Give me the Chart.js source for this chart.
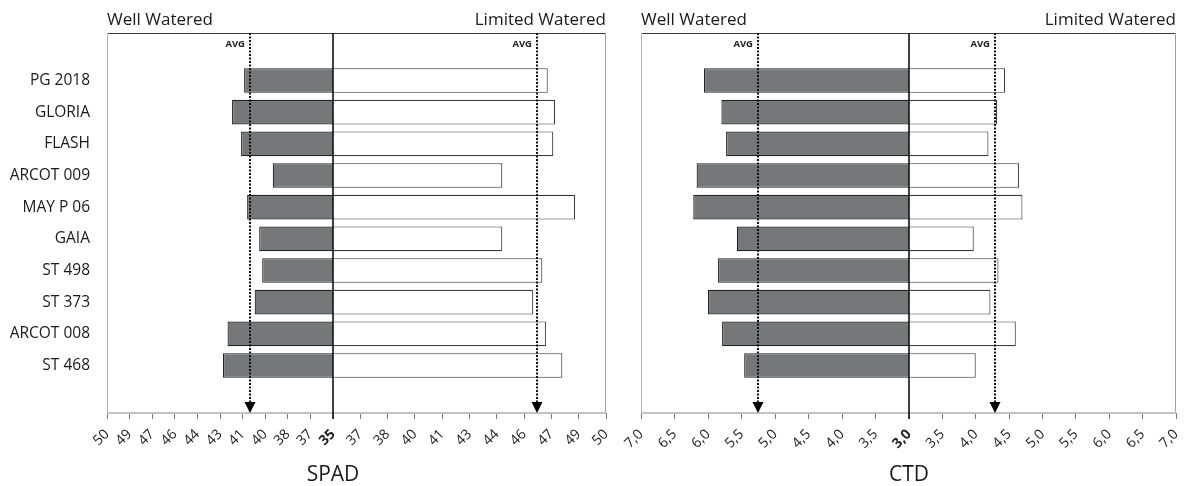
<!DOCTYPE html>
<html>
<head>
<meta charset="utf-8">
<script src="https://cdn.jsdelivr.net/npm/chart.js@4.4.1/dist/chart.umd.min.js"></script>
<style>
  html, body { margin: 0; padding: 0; background: #fff; }
  #wrap { position: relative; width: 1184px; height: 486px; }
  canvas { position: absolute; top: 0; }
  #spad { left: 0; }
  #ctd { left: 620px; }
</style>
</head>
<body>
<div id="wrap">
  <canvas id="spad" width="620" height="486"></canvas>
  <canvas id="ctd" width="564" height="486"></canvas>
</div>
<script>
// genotypes, top to bottom
const categories = ['PG 2018', 'GLORIA', 'FLASH', 'ARCOT 009', 'MAY P 06', 'GAIA', 'ST 498', 'ST 373', 'ARCOT 008', 'ST 468'];

// SPAD readings
const spadWell = [40.9, 41.7, 41.1, 39.0, 40.7, 39.9, 39.7, 40.2, 42.0, 42.3];
const spadLimited = [46.8, 47.2, 47.1, 44.3, 48.3, 44.3, 46.5, 46.0, 46.7, 47.6];
const spadAvg = [40.5, 46.2];        // well, limited
const spadRange = [35, 50];
const spadStep = 1.5;

// canopy temperature depression
const ctdWell = [6.06, 5.80, 5.73, 6.17, 6.22, 5.57, 5.85, 6.00, 5.79, 5.46];
const ctdLimited = [4.44, 4.32, 4.19, 4.65, 4.70, 3.97, 4.34, 4.22, 4.60, 4.00];
const ctdAvg = [5.25, 4.29];
const ctdRange = [3, 7];
const ctdStep = 0.5;

const FONT = "'Open Sans', 'DejaVu Sans', sans-serif";
const DARK = '#75787b';

// frame, centre line, AVG markers and the text around the plot
const panelDecor = {
  id: 'panelDecor',
  afterDatasetsDraw(chart, args, opts) {
    const { ctx, chartArea: a, scales } = chart;
    const mid = Math.round(scales.xR.left);
    ctx.save();

    ctx.lineWidth = 1;
    ctx.strokeStyle = '#3c3c3c';
    ctx.beginPath(); ctx.moveTo(a.left, a.top + 0.5); ctx.lineTo(a.right, a.top + 0.5); ctx.stroke();
    ctx.strokeStyle = '#b4b4b4';
    ctx.beginPath(); ctx.moveTo(Math.round(a.left) + 0.5, a.top); ctx.lineTo(Math.round(a.left) + 0.5, a.bottom); ctx.stroke();
    ctx.strokeStyle = '#a0a0a0';
    ctx.beginPath(); ctx.moveTo(Math.round(a.right) - 0.5, a.top); ctx.lineTo(Math.round(a.right) - 0.5, a.bottom); ctx.stroke();
    ctx.strokeStyle = '#c4c4c4';
    ctx.lineWidth = 2;
    ctx.beginPath(); ctx.moveTo(a.left, a.bottom); ctx.lineTo(a.right, a.bottom); ctx.stroke();
    ctx.strokeStyle = '#111';
    ctx.lineWidth = 1.6;
    ctx.beginPath(); ctx.moveTo(mid, a.top); ctx.lineTo(mid, a.bottom + 6); ctx.stroke();

    // averages
    opts.avg.forEach((v, i) => {
      const x = Math.round((i === 0 ? scales.xL : scales.xR).getPixelForValue(v));
      ctx.strokeStyle = '#111';
      ctx.lineWidth = 2;
      ctx.setLineDash([2, 1.5]);
      ctx.beginPath(); ctx.moveTo(x, a.top); ctx.lineTo(x, a.bottom - 10); ctx.stroke();
      ctx.setLineDash([]);
      ctx.fillStyle = '#000';
      ctx.beginPath();
      ctx.moveTo(x - 5.5, a.bottom - 11);
      ctx.lineTo(x + 5.5, a.bottom - 11);
      ctx.lineTo(x, a.bottom);
      ctx.closePath();
      ctx.fill();
      ctx.font = 'bold 9.5px ' + FONT;
      ctx.fillStyle = '#222';
      ctx.textAlign = 'right';
      ctx.textBaseline = 'middle';
      ctx.fillText('AVG', x - 5, a.top + 11);
    });

    ctx.fillStyle = '#1a1a1a';
    ctx.font = '17px ' + FONT;
    ctx.textBaseline = 'alphabetic';
    ctx.textAlign = 'left';
    ctx.fillText('Well Watered', a.left, 25);
    ctx.textAlign = 'right';
    ctx.fillText('Limited Watered', a.right, 25);
    ctx.font = '21px ' + FONT;
    ctx.textAlign = 'center';
    ctx.fillText(opts.title, mid, 481);
    ctx.restore();
  }
};

function makePanel(id, well, limited, avg, range, step, fmt, weights, padding, showLabels, title) {
  const labels = ['', ...categories, ''];
  const pad = arr => [null, ...arr, null];
  const tickFont = ctx => ({
    family: FONT, size: 14,
    weight: ctx.tick && Math.abs(ctx.tick.value - range[0]) < 1e-9 ? 'bold' : 'normal'
  });
  const xAxis = (weight, reverse) => ({
    type: 'linear',
    position: 'bottom',
    stack: 'halves',
    stackWeight: weight,
    reverse: reverse,
    min: range[0],
    max: range[1],
    afterFit: s => { s.height = 73; s.paddingLeft = 0; s.paddingRight = 0; },
    grid: { display: true, drawOnChartArea: false, tickLength: 6, color: '#777' },
    border: { display: false },
    ticks: {
      stepSize: step,
      autoSkip: false,
      minRotation: 45,
      maxRotation: 45,
      padding: 7,
      color: '#222',
      font: tickFont,
      // the centre value belongs to the right-hand half only
      callback: v => (reverse && Math.abs(v - range[0]) < 1e-9) ? '' : fmt(v)
    }
  });

  return new Chart(document.getElementById(id), {
    type: 'bar',
    data: {
      labels: labels,
      datasets: [
        {
          label: 'Well Watered',
          data: pad(well),
          xAxisID: 'xL',
          backgroundColor: DARK,
          borderColor: '#222',
          borderWidth: 1.2
        },
        {
          label: 'Limited Watered',
          data: pad(limited),
          xAxisID: 'xR',
          backgroundColor: '#fff',
          borderColor: '#3a3a3a',
          borderWidth: 1.1
        }
      ]
    },
    options: {
      indexAxis: 'y',
      responsive: false,
      animation: false,
      devicePixelRatio: 1,
      layout: { padding: padding },
      datasets: { bar: { grouped: false, barPercentage: 0.78, categoryPercentage: 1 } },
      scales: {
        y: {
          display: showLabels,
          afterFit: s => { if (showLabels) s.width = 107; },
          grid: { display: false, drawTicks: false },
          border: { display: false },
          ticks: { color: '#1a1a1a', font: { family: FONT, size: 15.5 }, padding: 17 }
        },
        xL: xAxis(weights[0], true),
        xR: xAxis(weights[1], false)
      },
      plugins: {
        legend: { display: false },
        tooltip: { enabled: false },
        panelDecor: { avg: avg, title: title }
      }
    },
    plugins: [panelDecor]
  });
}

makePanel('spad', spadWell, spadLimited, spadAvg, spadRange, spadStep,
  v => String(Math.round(v)), [226, 273],
  { top: 33, left: 0, right: 14, bottom: 0 }, true, 'SPAD');

makePanel('ctd', ctdWell, ctdLimited, ctdAvg, ctdRange, ctdStep,
  v => v.toFixed(1).replace('.', ','), [268, 267],
  { top: 33, left: 21, right: 8, bottom: 0 }, false, 'CTD');
</script>
</body>
</html>
